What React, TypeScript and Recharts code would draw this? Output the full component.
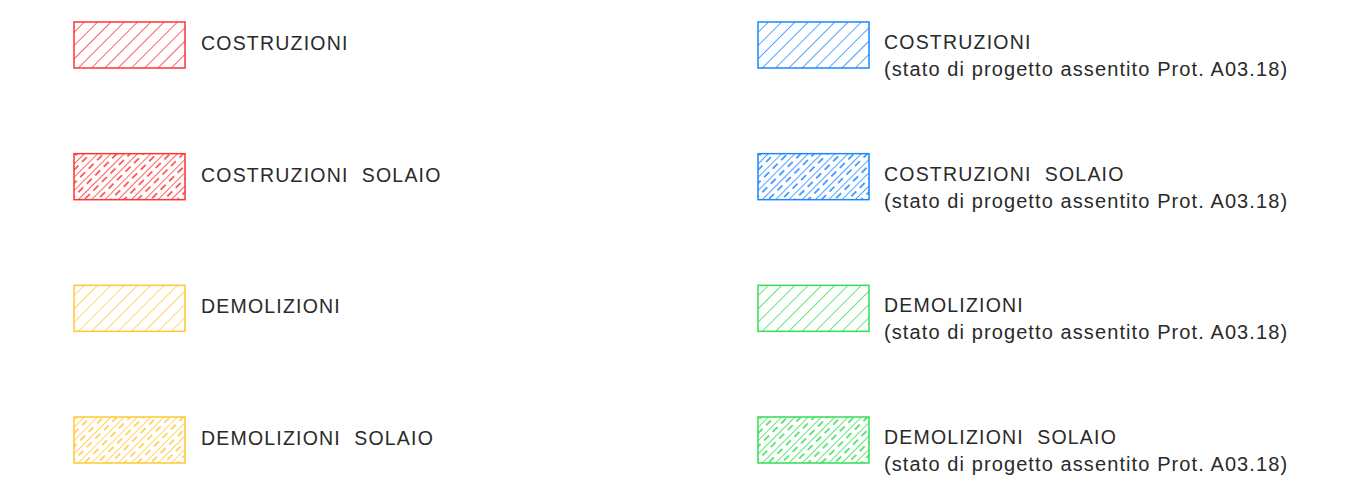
import { ScatterChart, Scatter, XAxis, YAxis } from 'recharts'

const leftLabels = ['COSTRUZIONI', 'COSTRUZIONI  SOLAIO', 'DEMOLIZIONI', 'DEMOLIZIONI  SOLAIO']
const rightLabels = ['COSTRUZIONI', 'COSTRUZIONI  SOLAIO', 'DEMOLIZIONI', 'DEMOLIZIONI  SOLAIO']
const rightNote = '(stato di progetto assentito Prot. A03.18)'
const leftColors = ['#ff3333', '#ff3333', '#ffc833', '#ffc833']
const rightColors = ['#1a86ff', '#1a86ff', '#33dd55', '#33dd55']
const solaio = [false, true, false, true]
const rows = [0, 1, 2, 3]

const data = [
    ...rows.map((r) => ({ col: 0, row: r, label: leftLabels[r], note: '', color: leftColors[r], dashed: solaio[r] })),
    ...rows.map((r) => ({ col: 1, row: r, label: rightLabels[r], note: rightNote, color: rightColors[r], dashed: solaio[r] })),
]

const BOX_W = 111
const BOX_H = 46
const FONT = '"Liberation Sans", Arial, sans-serif'

function LegendItem(props: any) {
    const { cx, cy, payload } = props
    const id = `hatch-${payload.col}-${payload.row}`
    const c = payload.color
    return (
        <g>
            <defs>
                <pattern id={id} width={9.4} height={12} patternUnits="userSpaceOnUse" patternTransform={`translate(${cx},${cy}) rotate(45)`}>
                    <line x1={0} y1={0} x2={0} y2={12} stroke={c} strokeWidth={1.5} />
                    {payload.dashed && (
                        <line x1={4.7} y1={1} x2={4.7} y2={13} stroke={c} strokeWidth={1.5} strokeDasharray="7 5" />
                    )}
                </pattern>
            </defs>
            <rect x={cx} y={cy - BOX_H / 2} width={BOX_W} height={BOX_H} fill={`url(#${id})`} stroke={c} strokeWidth={1.5} />
            {payload.note ? (
                <text fontFamily={FONT} fill="#2a2a2a" fontSize={19.5} style={{ whiteSpace: 'pre' }}>
                    <tspan x={cx + 126} y={cy + 4} letterSpacing={1.2}>{payload.label}</tspan>
                    <tspan x={cx + 126} y={cy + 31} fontSize={20} letterSpacing={1.1}>{payload.note}</tspan>
                </text>
            ) : (
                <text x={cx + 127} y={cy + 5} fontFamily={FONT} fill="#2a2a2a" fontSize={19.5} letterSpacing={1.2} style={{ whiteSpace: 'pre' }}>
                    {payload.label}
                </text>
            )}
        </g>
    )
}

export default function App() {
    return (
        <div style={{ position: 'absolute', left: 0, top: 0, background: '#fff' }}>
            <ScatterChart width={1361} height={480} margin={{ top: 45, right: 603, bottom: 40, left: 74 }}>
                <XAxis dataKey="col" type="number" domain={[0, 1]} hide />
                <YAxis dataKey="row" type="number" domain={[0, 3]} reversed hide />
                <Scatter data={data} shape={<LegendItem />} isAnimationActive={false} />
            </ScatterChart>
        </div>
    )
}
